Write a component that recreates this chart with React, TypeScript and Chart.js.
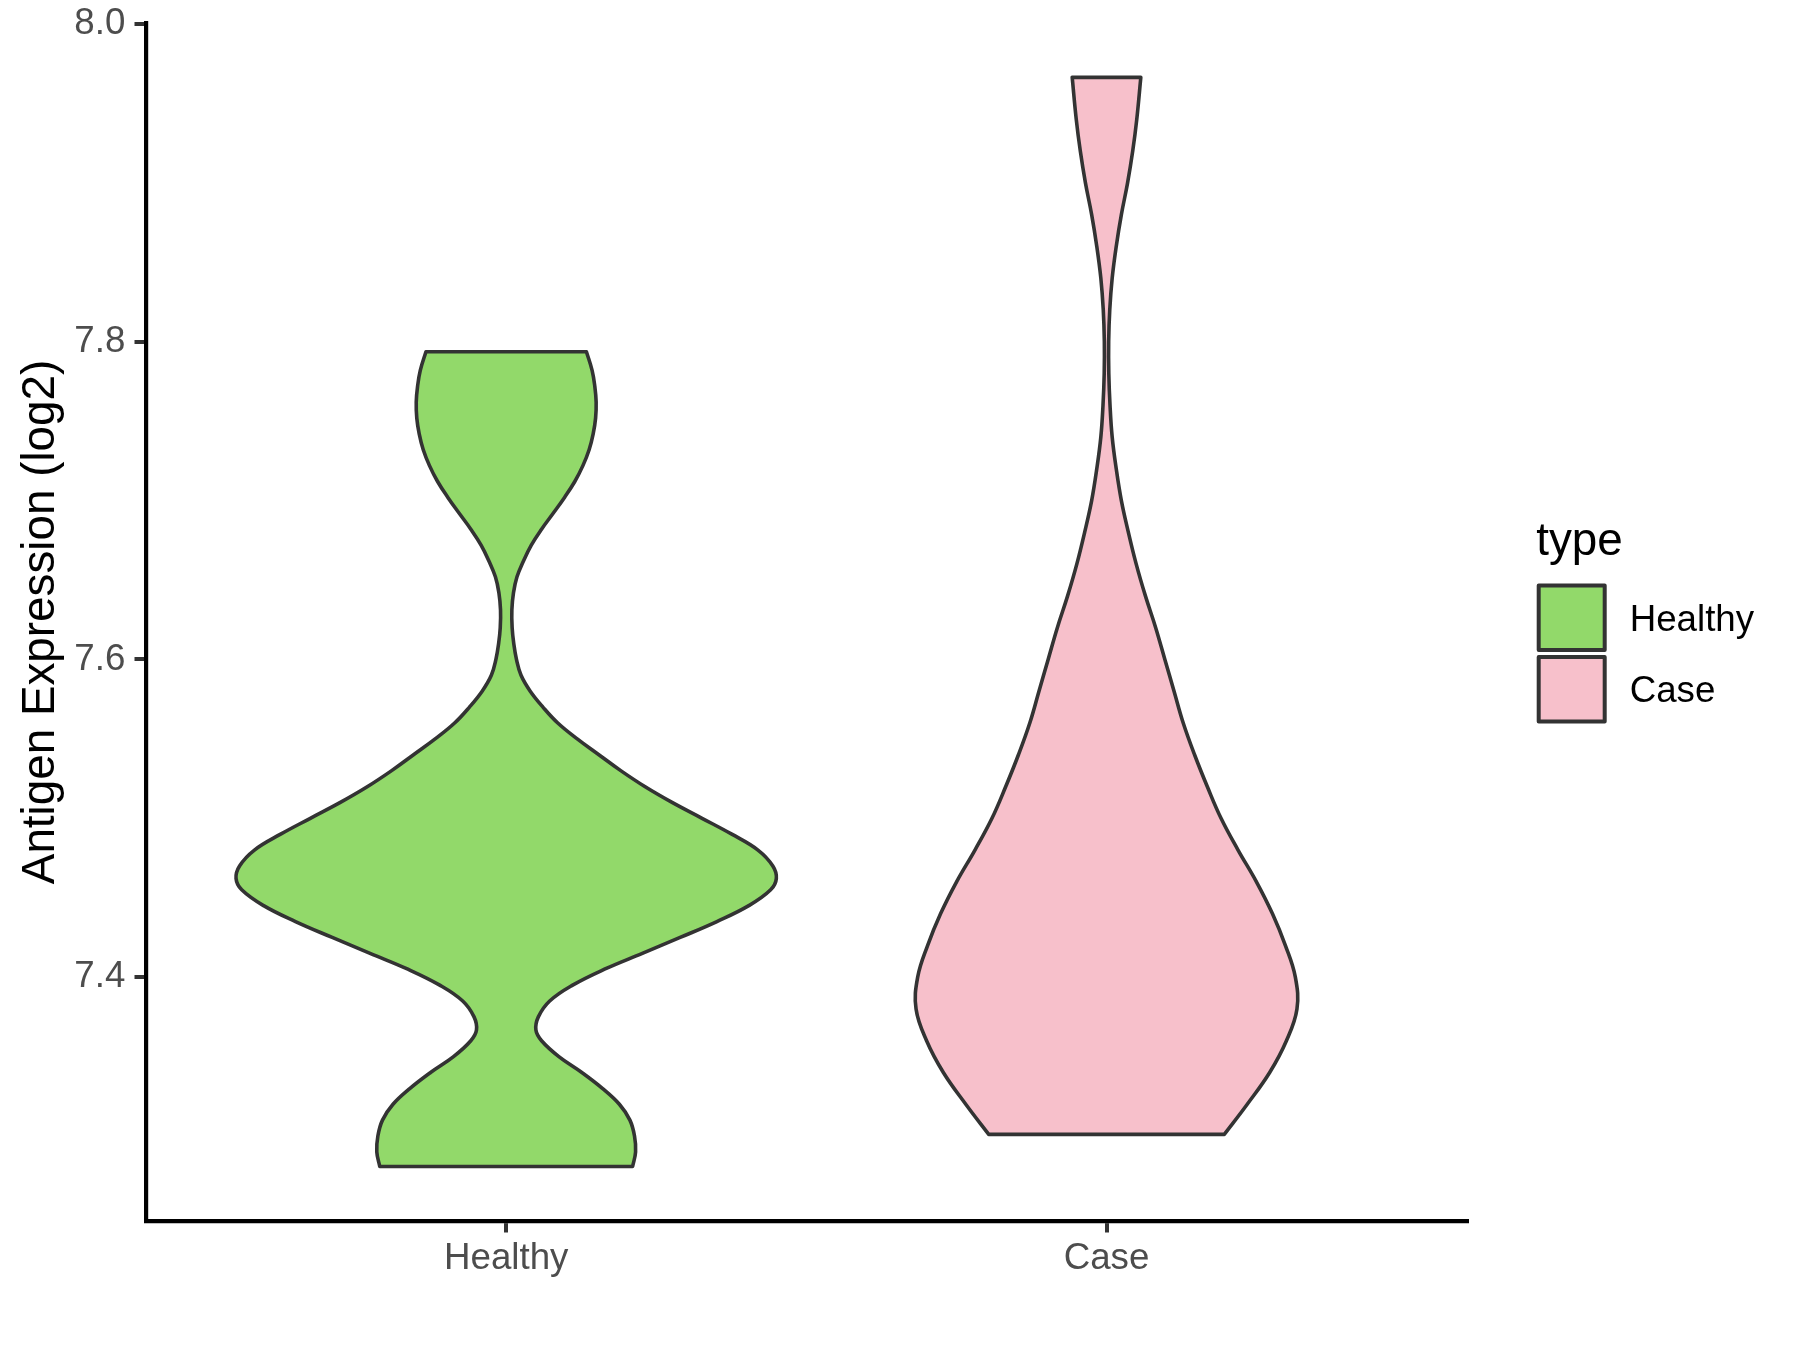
import React, { useEffect, useRef } from "react";
import { Chart, registerables } from "chart.js";

Chart.register(...registerables);

// ---------------- data ----------------
const categories = ["Healthy", "Case"];
const legendTitle = "type";
const yAxisTitle = "Antigen Expression (log2)";
const yTicks = [7.4, 7.6, 7.8, 8.0];
const yMin = 7.2465;
const yMax = 8.0007;

// Healthy violin: expression values (bottom -> top) and relative density (1 = widest)
const healthyY = [
  7.2808, 7.29, 7.3, 7.31, 7.32, 7.33, 7.34, 7.35, 7.36, 7.3667,
  7.375, 7.385, 7.395, 7.405, 7.415, 7.425, 7.435, 7.445, 7.455, 7.4621,
  7.47, 7.48, 7.49, 7.5, 7.51, 7.52, 7.53, 7.54, 7.55, 7.56,
  7.57, 7.58, 7.59, 7.6, 7.61, 7.62, 7.6312, 7.642, 7.652, 7.662,
  7.672, 7.682, 7.692, 7.702, 7.712, 7.722, 7.732, 7.742, 7.752, 7.762,
  7.772, 7.782, 7.7937,
];
const healthyDensity = [
  0.468, 0.479, 0.475, 0.458, 0.419, 0.356, 0.28, 0.195, 0.131, 0.11,
  0.119, 0.161, 0.246, 0.364, 0.504, 0.644, 0.78, 0.898, 0.979, 1.0,
  0.987, 0.932, 0.835, 0.725, 0.614, 0.513, 0.424, 0.343, 0.263, 0.191,
  0.136, 0.089, 0.055, 0.038, 0.028, 0.022, 0.021, 0.027, 0.04, 0.064,
  0.093, 0.131, 0.174, 0.216, 0.254, 0.284, 0.307, 0.322, 0.331, 0.333,
  0.328, 0.318, 0.297,
];

// Case violin
const caseY = [
  7.301, 7.32, 7.34, 7.36, 7.38, 7.4, 7.42, 7.44, 7.46,
  7.48, 7.5, 7.52, 7.54, 7.56, 7.58, 7.6, 7.62, 7.64, 7.66,
  7.68, 7.7, 7.72, 7.74, 7.76, 7.78, 7.8, 7.82, 7.84, 7.86,
  7.88, 7.9, 7.92, 7.94, 7.9664,
];
const caseDensity = [
  0.436, 0.521, 0.604, 0.666, 0.705, 0.699, 0.662, 0.614, 0.555,
  0.487, 0.424, 0.373, 0.326, 0.284, 0.25, 0.216, 0.182, 0.144, 0.11,
  0.081, 0.055, 0.036, 0.021, 0.013, 0.0085, 0.008, 0.012, 0.021, 0.036,
  0.055, 0.078, 0.097, 0.112, 0.127,
];

const fillColors = ["#92D96A", "#F7C0CB"];
const outlineColor = "#333333";
const maxHalfWidth = 0.45;

const FONT = '"Liberation Sans", Arial, Helvetica, sans-serif';

type P = { x: number; y: number };

function violinOutline(center: number, ys: number[], dens: number[]): P[] {
  const left = ys.map((y, i) => ({ x: center - maxHalfWidth * dens[i], y }));
  const right = ys
    .map((y, i) => ({ x: center + maxHalfWidth * dens[i], y }))
    .reverse();
  const n = left.length;
  const pts: P[] = [];
  for (let i = 0; i < n; i++) pts.push(left[i]);
  pts.push({ ...left[n - 1] }); // sharp top-left corner
  pts.push(right[0]);
  pts.push({ ...right[0] }); // sharp top-right corner
  for (let i = 1; i < n; i++) pts.push(right[i]);
  pts.push({ ...right[n - 1] }); // sharp bottom-right corner
  pts.push({ ...left[0] }); // close
  return pts;
}

const legendPlugin = {
  id: "violinLegend",
  afterDraw(chart: any) {
    const ctx = chart.ctx;
    const area = chart.chartArea;
    const x0 = area.right + 69.5;
    ctx.save();
    ctx.textAlign = "left";
    ctx.textBaseline = "alphabetic";
    ctx.fillStyle = "#000000";
    ctx.font = `45.8px ${FONT}`;
    ctx.fillText(legendTitle, x0, 555);
    chart.data.datasets.forEach((ds: any, i: number) => {
      const top = 585.5 + i * 71.6;
      ctx.fillStyle = ds.backgroundColor;
      ctx.fillRect(x0 + 2.5, top, 66, 64.5);
      ctx.strokeStyle = ds.borderColor;
      ctx.lineWidth = 4;
      ctx.lineJoin = "round";
      ctx.strokeRect(x0 + 2.5, top, 66, 64.5);
      ctx.fillStyle = "#000000";
      ctx.font = `36.7px ${FONT}`;
      ctx.fillText(ds.label, x0 + 93.5, 631 + i * 71);
    });
    ctx.restore();
  },
};

export default function App() {
  const ref = useRef<HTMLCanvasElement | null>(null);

  useEffect(() => {
    if (!ref.current) return;
    Chart.defaults.font.family = FONT;
    const makeDataset = (i: number, ys: number[], dens: number[]) =>
      ({
        label: categories[i],
        data: violinOutline(i, ys, dens),
        showLine: true,
        fill: "shape",
        backgroundColor: fillColors[i],
        borderColor: outlineColor,
        borderWidth: 3.6,
        borderJoinStyle: "round",
        borderCapStyle: "round",
        tension: 0.4,
        pointRadius: 0,
        pointHoverRadius: 0,
      }) as any;
    const chart = new Chart(ref.current, {
      type: "scatter",
      data: {
        datasets: [
          makeDataset(0, healthyY, healthyDensity),
          makeDataset(1, caseY, caseDensity),
        ],
      },
      options: {
        responsive: false,
        animation: false,
        devicePixelRatio: 1,
        layout: { padding: { top: 22.9, right: 333.3, left: 0, bottom: 0 } },
        plugins: {
          legend: { display: false },
          tooltip: { enabled: false },
        },
        scales: {
          x: {
            type: "linear",
            min: -0.6,
            max: 1.6,
            bounds: "data",
            afterFit: (s: any) => {
              s.height = 129;
              s.paddingLeft = 0;
              s.paddingRight = 0;
            },
            afterBuildTicks: (s: any) => {
              s.ticks = categories.map((_, i) => ({ value: i }));
            },
            ticks: {
              autoSkip: false,
              maxRotation: 0,
              minRotation: 0,
              padding: 4.5,
              color: "#4D4D4D",
              font: { size: 36.7, family: FONT },
              callback: (v: any) => categories[Number(v)] ?? "",
            },
            grid: {
              display: true,
              drawOnChartArea: false,
              drawTicks: true,
              tickLength: 11.5,
              tickWidth: 4,
              tickColor: "#333333",
              lineWidth: 4,
            },
            border: { display: true, color: "#000000", width: 4.2 },
          },
          y: {
            type: "linear",
            min: yMin,
            max: yMax,
            bounds: "data",
            afterFit: (s: any) => {
              s.width = 146;
              s.paddingTop = 0;
              s.paddingBottom = 0;
            },
            afterBuildTicks: (s: any) => {
              s.ticks = yTicks.map((v) => ({ value: v }));
            },
            ticks: {
              autoSkip: false,
              padding: 9.2,
              color: "#4D4D4D",
              font: { size: 36.7, family: FONT },
              callback: (v: any) => Number(v).toFixed(1),
            },
            grid: {
              display: true,
              drawOnChartArea: false,
              drawTicks: true,
              tickLength: 11.5,
              tickWidth: 4,
              tickColor: "#333333",
              lineWidth: 4,
            },
            border: { display: true, color: "#000000", width: 4.2 },
            title: {
              display: true,
              text: yAxisTitle,
              color: "#000000",
              font: { size: 45.8, family: FONT },
              padding: { top: 14, bottom: 0 },
            },
          },
        },
      },
      plugins: [legendPlugin],
    });
    return () => chart.destroy();
  }, []);

  return (
    <div style={{ position: "absolute", left: 0, top: 0, width: 1800, height: 1350, background: "#ffffff" }}>
      <canvas ref={ref} width={1800} height={1350} style={{ display: "block", width: 1800, height: 1350 }} />
    </div>
  );
}
